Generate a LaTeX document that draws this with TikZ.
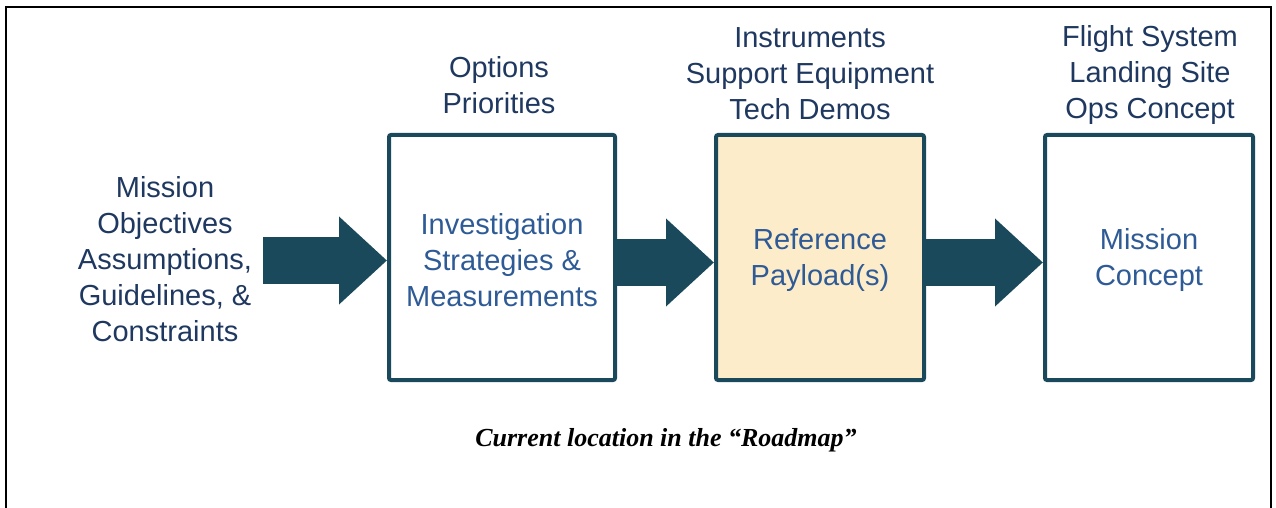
\documentclass[tikz,border=0pt]{standalone}
\usepackage{fontspec}
\setmainfont{Liberation Sans}
\newfontfamily\capfont{Liberation Serif}
\usepackage{xcolor}
\usepackage{tikz}
\usetikzlibrary{arrows.meta, positioning}
\definecolor{stageline}{RGB}{27,73,92}
\definecolor{stagetext}{RGB}{46,90,150}
\definecolor{outtext}{RGB}{31,56,96}
\definecolor{payfill}{RGB}{253,236,202}
\newcommand{\diagfont}{\fontsize{14.5}{18}\selectfont}

\tikzset{
  stage/.style={draw=stageline, line width=2pt, rectangle, rounded corners=1pt,
    minimum height=122.5pt, align=center, text=stagetext, font=\diagfont},
  outlabel/.style={align=center, text=outtext, font=\diagfont},
  bigarrow/.style={draw=stageline, line width=23pt, -{Triangle[length=24pt, width=42.5pt]}}
}

\begin{document}
\begin{tikzpicture}[x=0.5pt, y=-0.5pt]
\useasboundingbox (0,0) rectangle (1276,508);
\draw[line width=0.8pt] (6,508) -- (6,7) -- (1271,7) -- (1271,508);

\node [outlabel, inner sep=5.5pt] (mission) at (165,259) {Mission\\ Objectives\\ Assumptions,\\ Guidelines, \&\\ Constraints};

\node [stage, minimum width=113pt] (invest) at (502,257.5) {\\[-5pt]Investigation\\ Strategies \&\\ Measurements};
\node [stage, minimum width=104pt, fill=payfill] (payload) at (820,257.5) {\\[-5pt]Reference\\ Payload(s)};
\node [stage, minimum width=104pt] (concept) at (1149,257.5) {\\[-5pt]Mission\\ Concept};

\node [outlabel] (options) at (499,85) {Options\\ Priorities};
\node [outlabel] (instr) at (810,73.5) {Instruments\\ Support Equipment\\ Tech Demos};
\node [outlabel] (flight) at (1150,75) {Flight System\\ Landing Site\\ Ops Concept};

\draw [bigarrow] ([yshift=-1.5pt]invest.west -| mission.east) -- ([yshift=-1.5pt]invest.west);
\draw [bigarrow] ([yshift=-2.5pt]invest.east) -- ([yshift=-2.5pt]payload.west);
\draw [bigarrow] ([yshift=-2.5pt]payload.east) -- ([yshift=-2.5pt]concept.west);

\node [font=\capfont\bfseries\itshape\fontsize{13}{16}\selectfont] (roadmap) at (666,440) {Current location in the “Roadmap”};
\end{tikzpicture}
\end{document}
